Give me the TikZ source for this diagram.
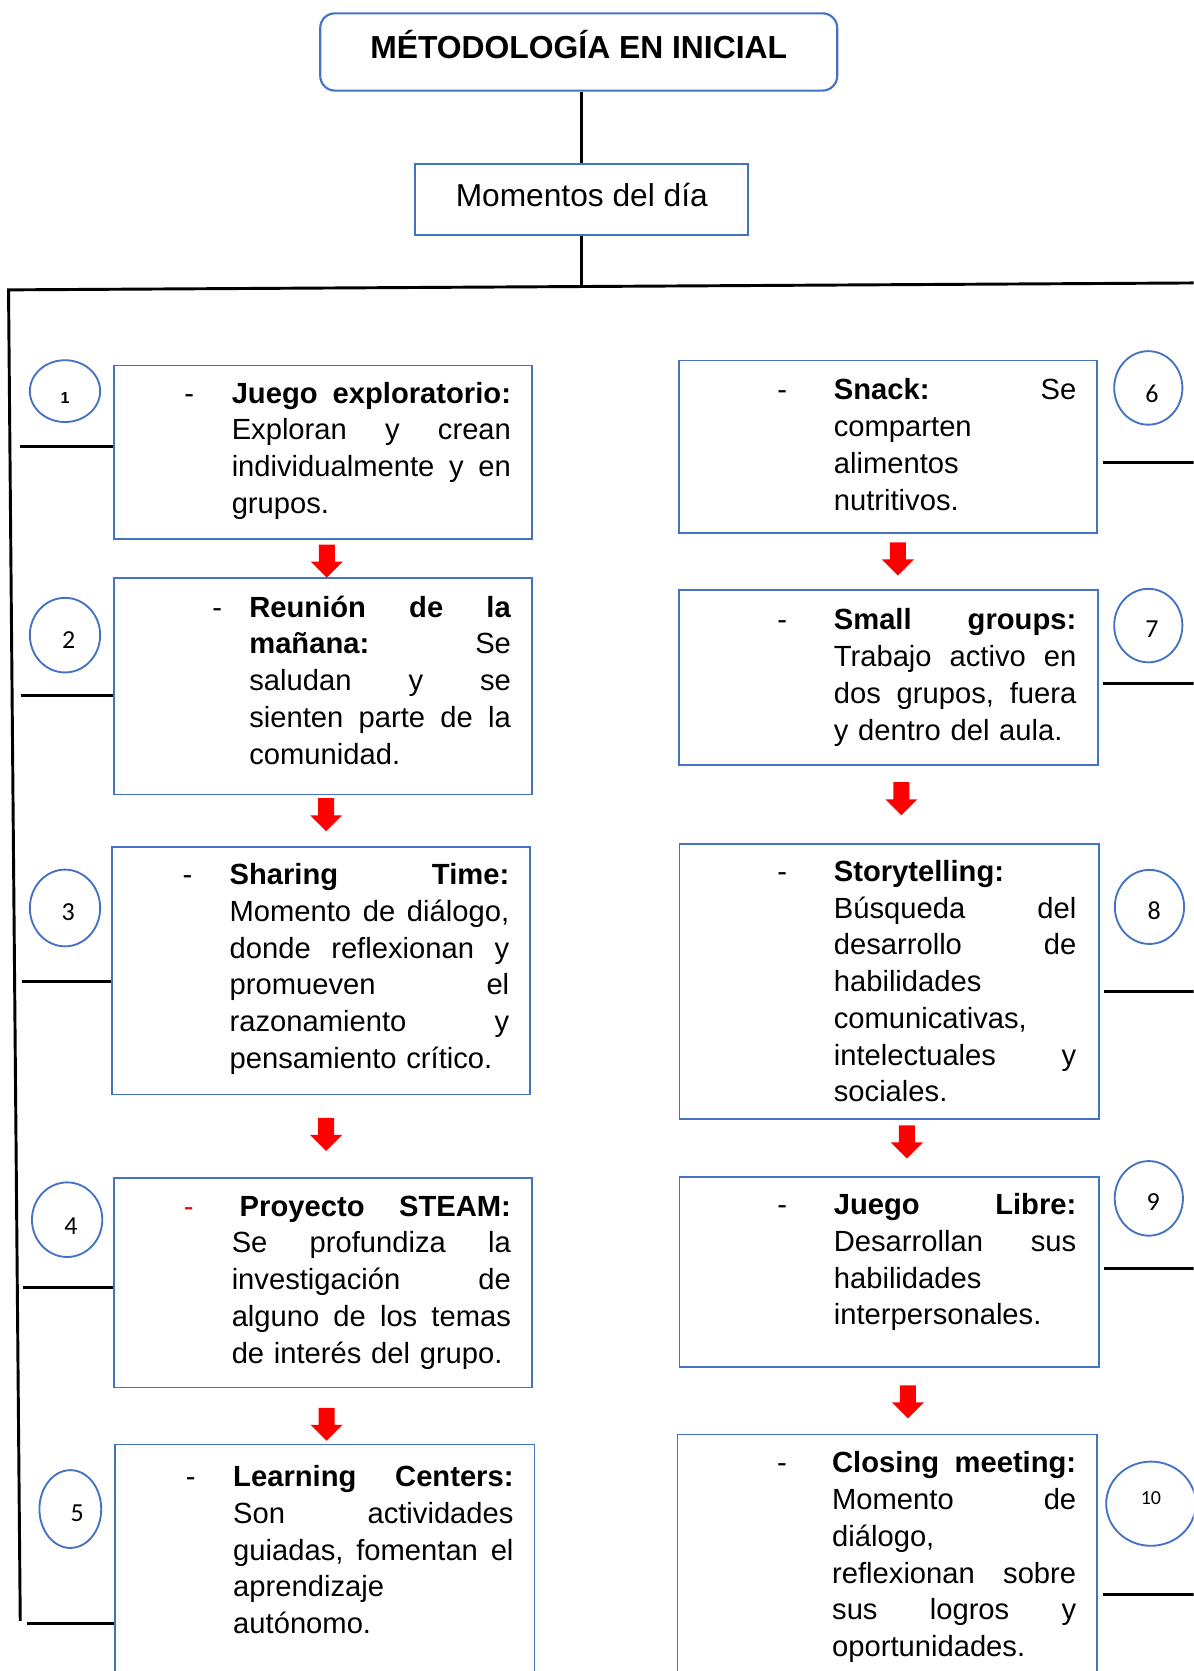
\documentclass[tikz,border=0pt]{standalone}
\usepackage{fontspec}
\setmainfont{Liberation Sans}
\newfontfamily\numfont{Carlito}
\usetikzlibrary{fit,shapes.geometric}
\definecolor{wordblue}{HTML}{4472C4}
\newlength{\tw}
\newcommand{\justline}[1]{\leavevmode\hbox to \tw{\spaceskip=0.278em plus 1fil\relax #1}}
\newcommand{\itemdash}[2][black]{\llap{\makebox[#2][l]{\textcolor{#1}{-}}}}
\tikzset{every picture/.style={line width=0.75pt}}
\tikzset{
  conn/.style={line width=2.2pt, black},
  box/.style={draw=wordblue, line width=1.4pt, inner sep=0pt},
  titlebox/.style={box, rounded corners=11pt, line width=1.6pt},
  numcirc/.style={ellipse, draw=wordblue, line width=1.4pt, inner sep=0pt},
  txt/.style={font=\fontsize{21.9}{27.6}\selectfont\frenchspacing, align=left, inner sep=0pt, anchor=base west,
    text width=#1, execute at begin node={\setlength{\tw}{#1}}},
  num/.style={font=\numfont\fontsize{19.5}{22}\selectfont, inner sep=0pt},
  downarr/.pic={\fill[red] (-7.5,0) -- (7.5,0) -- (7.5,-16) -- (15,-16) -- (0,-31) -- (-15,-16) -- (-7.5,-16) -- cycle;}
}

\begin{document}
\begin{tikzpicture}[x=0.8pt,y=0.8pt,yscale=-1,xscale=1]
\clip (0,0) rectangle (1120,1568);

%Rounded Rect [title]
\node[titlebox, fit={(300.5,12.5) (785.6,85)}] (title) {};
% Text Node
\node[font=\bfseries\fontsize{23.9}{28}\selectfont, inner sep=0pt, anchor=base] (titlelbl) at (543,54.7) {MÉTODOLOGÍA EN INICIAL};
%Shape: Rectangle [momentos]
\node[box, fit={(389.6,154.1) (702.2,220.4)}] (mom) {};
% Text Node
\node[font=\fontsize{23.8}{28}\selectfont, inner sep=0pt, anchor=base] (momlbl) at (545.9,193.5) {Momentos del día};

%Straight Lines [trunk]
\coordinate (hub) at (545.9,268.9);
\coordinate (corner) at (8,272);
\coordinate (redge) at (1120,265.5);
\coordinate (lend) at (19,1521);
\draw[conn] (mom.north |- title.south) -- (mom.north);
\draw[conn] (mom.south) -- (hub);
\draw[conn] (redge) -- (corner) -- (lend);

%Shapes: Rectangles, left column
\node[box, fit={(107,343) (499,505.5)}] (b1) {};
\node[box, fit={(107,542.5) (499,745.5)}] (b2) {};
\node[box, fit={(105,795) (497.5,1027)}] (b3) {};
\node[box, fit={(107,1105.5) (499.5,1302)}] (b4) {};
\node[box, fit={(108,1355.5) (501.5,1600)}] (b5) {};
%Shapes: Rectangles, right column
\node[box, fit={(637,338.3) (1029.6,500.3)}] (b6) {};
\node[box, fit={(637,554) (1030,717.6)}] (b7) {};
\node[box, fit={(637.6,791.7) (1031,1050)}] (b8) {};
\node[box, fit={(637.6,1104.3) (1031,1282.5)}] (b9) {};
\node[box, fit={(635.7,1346) (1029.6,1600)}] (b10) {};

% Text Node
\node[txt=209.6pt] (t1) at (217,378.3) {\itemdash{35.6pt}\justline{\textbf{Juego exploratorio:}}\\
\justline{Exploran y crean}\\
\justline{individualmente y en}\\
grupos.};
% Text Node
\node[txt=196.4pt] (t2) at (233.5,579) {\itemdash{27.8pt}\justline{\textbf{Reunión de la}}\\
\justline{\textbf{mañana:} Se}\\
\justline{saludan y se}\\
\justline{sienten parte de la}\\
comunidad.};
% Text Node
\node[txt=209.9pt] (t3) at (215,830) {\itemdash{35.2pt}\justline{\textbf{Sharing Time:}}\\
\justline{Momento de diálogo,}\\
\justline{donde reflexionan y}\\
\justline{promueven el}\\
\justline{razonamiento y}\\
pensamiento crítico.};
% Text Node
\node[txt=209.6pt] (t4) at (217,1141.2) {\itemdash[red]{36pt}\justline{\hspace*{6pt}\textbf{Proyecto STEAM:}}\\
\justline{Se profundiza la}\\
\justline{investigación de}\\
\justline{alguno de los temas}\\
de interés del grupo.};
% Text Node
\node[txt=210.4pt] (t5) at (218.4,1395) {\itemdash{35.5pt}\justline{\textbf{Learning Centers:}}\\
\justline{Son actividades}\\
\justline{guiadas, fomentan el}\\
aprendizaje\\
autónomo.};
% Text Node
\node[txt=182pt] (t6) at (782,375.2) {\itemdash{42.4pt}\justline{\textbf{Snack:} Se}\\
comparten\\
alimentos\\
nutritivos.};
% Text Node
\node[txt=182pt] (t7) at (782,591) {\itemdash{42.4pt}\justline{\textbf{Small groups:}}\\
\justline{Trabajo activo en}\\
\justline{dos grupos, fuera}\\
y dentro del aula.};
% Text Node
\node[txt=182pt] (t8) at (782,827) {\itemdash{42.4pt}\textbf{Storytelling:}\\
\justline{Búsqueda del}\\
\justline{desarrollo de}\\
habilidades\\
comunicativas,\\
\justline{intelectuales y}\\
sociales.};
% Text Node
\node[txt=182pt] (t9) at (782,1139.7) {\itemdash{42.4pt}\justline{\textbf{Juego Libre:}}\\
\justline{Desarrollan sus}\\
habilidades\\
interpersonales.};
% Text Node
\node[txt=183.2pt] (t10) at (780.4,1382) {\itemdash{41.3pt}\justline{\textbf{Closing meeting:}}\\
\justline{Momento de}\\
diálogo,\\
\justline{reflexionan sobre}\\
\justline{sus logros y}\\
oportunidades.};

%Down Arrows
\pic at (306.7,511) {downarr};
\pic at (306,749) {downarr};
\pic at (306,1049) {downarr};
\pic at (306.5,1321) {downarr};
\pic at (842.6,509) {downarr};
\pic at (845.8,734) {downarr};
\pic at (851,1056) {downarr};
\pic at (852,1300) {downarr};

%Shape: Ellipses
\node[numcirc, minimum width=52.8pt, minimum height=46.4pt] (c1) at (61,367) {};
\node[numcirc, minimum width=52.8pt, minimum height=56pt] (c2) at (61,596) {};
\node[numcirc, minimum width=52.8pt, minimum height=57.6pt] (c3) at (61,852) {};
\node[numcirc, minimum width=52.8pt, minimum height=56pt] (c4) at (63,1144.5) {};
\node[numcirc, minimum width=46.4pt, minimum height=58.4pt] (c5) at (66,1416) {};
\node[numcirc, minimum width=51.2pt, minimum height=55.2pt] (c6) at (1077.5,364) {};
\node[numcirc, minimum width=51.2pt, minimum height=55.2pt] (c7) at (1077.5,587) {};
\node[numcirc, minimum width=52pt, minimum height=55.6pt] (c8) at (1078.6,851) {};
\node[numcirc, minimum width=51.2pt, minimum height=56pt] (c9) at (1078,1124.5) {};
\node[numcirc, minimum width=67.2pt, minimum height=63.2pt] (c10) at (1080,1411) {};

% Text Node
\node[num, font=\bfseries\fontsize{12}{14}\selectfont] (n1) at (61,373.3) {1};
\node[num] (n2) at (64.5,600.8) {2};
\node[num] (n3) at (64,855.5) {3};
\node[num] (n4) at (66.7,1150.6) {4};
\node[num] (n5) at (72.5,1419.5) {5};
\node[num] (n6) at (1081,369.7) {6};
\node[num] (n7) at (1081,590.2) {7};
\node[num] (n8) at (1083,854.7) {8};
\node[num] (n9) at (1082,1128) {9};
\node[num, font=\numfont\fontsize{15}{18}\selectfont] (n10) at (1080,1406) {10};

%Straight Lines [stubs, left]
\coordinate (s1) at (19,419);
\coordinate (s2) at (20,653);
\coordinate (s3) at (21,921);
\coordinate (s4) at (22,1208);
\coordinate (s5) at (25,1523);
\draw[conn] (s1) -- (s1 -| b1.west);
\draw[conn] (s2) -- (s2 -| b2.west);
\draw[conn] (s3) -- (s3 -| b3.west);
\draw[conn] (s4) -- (s4 -| b4.west);
\draw[conn] (s5) -- (s5 -| b5.west);
%Straight Lines [stubs, right]
\coordinate (r6) at (1120,434);
\coordinate (r7) at (1120,641);
\coordinate (r8) at (1120,930);
\coordinate (r9) at (1120,1190.6);
\coordinate (r10) at (1120,1496);
\draw[conn, shorten <=3.5pt] (r6 -| b6.east) -- (r6);
\draw[conn, shorten <=3.5pt] (r7 -| b7.east) -- (r7);
\draw[conn, shorten <=3.5pt] (r8 -| b8.east) -- (r8);
\draw[conn, shorten <=3.5pt] (r9 -| b9.east) -- (r9);
\draw[conn, shorten <=3.5pt] (r10 -| b10.east) -- (r10);

\end{tikzpicture}
\end{document}
